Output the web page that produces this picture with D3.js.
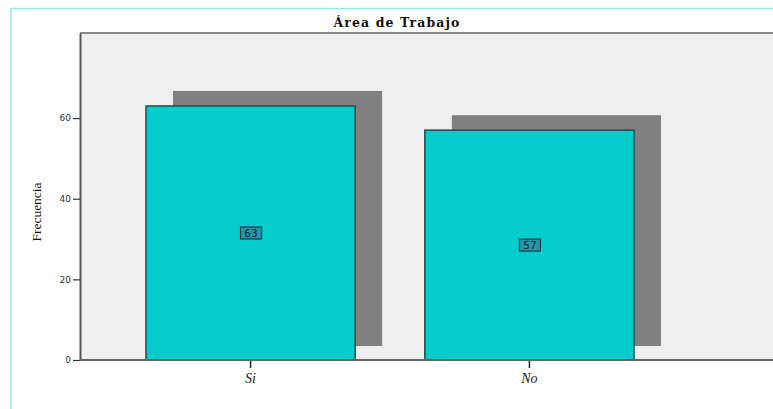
<!DOCTYPE html>
<html><head><meta charset="utf-8">
<script src="https://cdn.jsdelivr.net/npm/d3@7"></script>
<style>body{margin:0;background:#fff;}svg{display:block;}</style>
</head><body>
<svg id="c" width="773" height="409"></svg>
<script>
const categories = ["Si", "No"];
const values = [63, 57];
const yTicks = [0, 20, 40, 60];
const title = "Área de Trabajo";
const yLabel = "Frecuencia";

const svg = d3.select("#c");
const L = 80, T = 33, B = 360, R = 780;

// outer frame
svg.append("line").attr("x1",11).attr("x2",11).attr("y1",8).attr("y2",409).attr("stroke","#8eecea").attr("stroke-width",1.5);
svg.append("line").attr("x1",11).attr("x2",773).attr("y1",8.5).attr("y2",8.5).attr("stroke","#8eecea").attr("stroke-width",1.5);

const y = d3.scaleLinear().domain([0, 81.1]).range([B, T]);
const x = d3.scaleBand().domain(categories).range([L, 700]).paddingInner(0.25).paddingOuter(0.2366);

// plot background
svg.append("rect").attr("x",L).attr("y",T).attr("width",R-L).attr("height",B-T).attr("fill","#efefef");
svg.append("line").attr("x1",L).attr("x2",R).attr("y1",T).attr("y2",T).attr("stroke","#8a8a8a").attr("stroke-width",2);

// shadows
const dx = 27, dy = 15;
svg.selectAll("rect.sh").data(values).join("rect").attr("class","sh")
  .attr("x",(d,i)=>x(categories[i])+dx).attr("y",d=>y(d)-dy)
  .attr("width",x.bandwidth()).attr("height",d=>B-y(d)+1)
  .attr("fill","#808080");

// bars
svg.selectAll("rect.bar").data(values).join("rect").attr("class","bar")
  .attr("x",(d,i)=>x(categories[i])).attr("y",d=>y(d))
  .attr("width",x.bandwidth()).attr("height",d=>B-y(d))
  .attr("fill","#06cccc").attr("stroke","#1d4d4d").attr("stroke-width",1.5);

// value labels
const lab = svg.selectAll("g.lab").data(values).join("g").attr("class","lab")
  .attr("transform",(d,i)=>`translate(${x(categories[i])+x.bandwidth()/2},${y(d/2)})`);
lab.append("rect").attr("x",-10).attr("y",-6).attr("width",21).attr("height",12)
  .attr("fill","#2597a8").attr("stroke","#123c44").attr("stroke-width",1.2);
lab.append("text").text(d=>d).attr("text-anchor","middle").attr("dy","0.36em").attr("x",0.5)
  .attr("font-family","DejaVu Sans, sans-serif").attr("font-size",10.5).attr("fill","#0d2a30");

// y axis
const ya = svg.append("g").attr("transform",`translate(${L},0)`)
  .call(d3.axisLeft(y).tickValues(yTicks).tickSize(7).tickPadding(2).tickSizeOuter(0));
ya.select(".domain").attr("stroke","#555").attr("stroke-width",2);
ya.selectAll(".tick line").attr("stroke","#333").attr("stroke-width",1.2);
ya.selectAll(".tick text").attr("font-family","DejaVu Sans, sans-serif").attr("font-size",9).attr("fill","#333");

// x axis
const xa = svg.append("g").attr("transform",`translate(0,${B})`)
  .call(d3.axisBottom(x).tickSize(8).tickPadding(5).tickSizeOuter(0));
xa.select(".domain").remove();
svg.append("line").attr("x1",L).attr("x2",R).attr("y1",B).attr("y2",B).attr("stroke","#666").attr("stroke-width",2);
xa.selectAll(".tick line").attr("stroke","#222").attr("stroke-width",1.5);
xa.selectAll(".tick text").attr("font-family","Liberation Serif, serif").attr("font-style","italic").attr("font-size",14).attr("fill","#222");

// title
svg.append("text").text(title).attr("x",397).attr("y",27).attr("text-anchor","middle")
  .attr("font-family","DejaVu Serif, serif").attr("font-weight","bold").attr("font-size",12.5)
  .attr("letter-spacing",1.1).attr("fill","#111");

// y label
svg.append("text").text(yLabel).attr("transform","translate(41,212) rotate(-90)").attr("text-anchor","middle")
  .attr("font-family","Liberation Serif, serif").attr("font-size",13.5).attr("fill","#111");
</script>
</body></html>
